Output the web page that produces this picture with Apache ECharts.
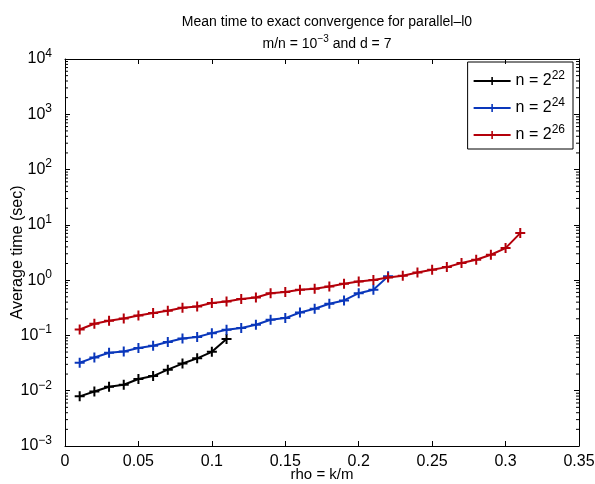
<!DOCTYPE html>
<html>
<head>
<meta charset="utf-8">
<script src="https://cdn.jsdelivr.net/npm/echarts@6/dist/echarts.min.js"></script>
<style>html,body{margin:0;padding:0;background:#fff}#c{width:595px;height:484px}</style>
</head>
<body>
<div id="c"></div>
<script>
// ---- data ----
const rho22 = [0.01,0.02,0.03,0.04,0.05,0.06,0.07,0.08,0.09,0.10,0.11];
const time22 = [0.0079,0.0097,0.0118,0.0128,0.0163,0.0184,0.024,0.031,0.0385,0.0505,0.086];
const rho24 = [0.01,0.02,0.03,0.04,0.05,0.06,0.07,0.08,0.09,0.10,0.11,0.12,0.13,0.14,0.15,0.16,0.17,0.18,0.19,0.20,0.21,0.22];
const time24 = [0.032,0.040,0.0487,0.0514,0.059,0.065,0.076,0.088,0.0935,0.110,0.127,0.136,0.156,0.192,0.206,0.26,0.304,0.375,0.43,0.58,0.67,1.17];
const rho26 = [0.01,0.02,0.03,0.04,0.05,0.06,0.07,0.08,0.09,0.10,0.11,0.12,0.13,0.14,0.15,0.16,0.17,0.18,0.19,0.20,0.21,0.22,0.23,0.24,0.25,0.26,0.27,0.28,0.29,0.30,0.31];
const time26 = [0.128,0.163,0.185,0.203,0.230,0.254,0.280,0.317,0.334,0.385,0.412,0.455,0.487,0.58,0.61,0.67,0.70,0.77,0.86,0.946,1.01,1.12,1.20,1.38,1.54,1.72,2.04,2.34,2.88,3.80,7.1];
const seriesNames = ['n = 2^22','n = 2^24','n = 2^26'];
const xTicks = [0,0.05,0.1,0.15,0.2,0.25,0.3,0.35];
const yDecades = [-3,-2,-1,0,1,2,3,4];
const minorMult = [2,3,4,5,6,7,8,9];

const colors = ['#000000','#0a37bb','#b4000a'];
const FONT = 'Liberation Sans, Arial, Helvetica, sans-serif';
const cross = 'path://M4,0H6V4H10V6H6V10H4V6H0V4H4Z';

const minorVals = [];
yDecades.slice(0,-1).forEach(k => minorMult.forEach(m => minorVals.push(m*Math.pow(10,k))));

function pair(xs, ys){ return xs.map((x,i)=>[x, ys[i]]); }
function supLabel(name){ const p = name.split('^'); return '{b|'+p[0]+'}{s|'+p[1]+'}'; }

const xMin = xTicks[0], xMax = xTicks[xTicks.length-1];
const yMin = Math.pow(10, yDecades[0]), yMax = Math.pow(10, yDecades[yDecades.length-1]);

const chart = echarts.init(document.getElementById('c'), null, {renderer:'canvas'});
const axisCommonY = {
  type:'log', logBase:10, min:yMin, max:yMax,
  axisLine:{show:true, onZero:false, lineStyle:{color:'#000', width:1}},
  axisTick:{show:true, inside:true, length:5, lineStyle:{color:'#000'}},
  splitLine:{show:false}, nameMoveOverlap:false
};
const axisCommonX = {
  type:'value', min:xMin, max:xMax, interval:0.05,
  axisLine:{show:true, onZero:false, lineStyle:{color:'#000', width:1}},
  axisTick:{show:true, inside:true, length:5, lineStyle:{color:'#000'}},
  splitLine:{show:false}, nameMoveOverlap:false
};
const lineSeries = [[rho22,time22],[rho24,time24],[rho26,time26]].map((d,i)=>({
  name: seriesNames[i], type:'line', xAxisIndex:0, yAxisIndex:0,
  data: pair(d[0], d[1]),
  symbol: cross, symbolSize: 10, showSymbol:true,
  lineStyle:{color:colors[i], width:2},
  itemStyle:{color:colors[i]},
  emphasis:{disabled:true}, animation:false, z: 3+i
}));
const minorSeries = {
  type:'custom', xAxisIndex:0, yAxisIndex:0, silent:true, animation:false, clip:false,
  data: minorVals.map(v=>[xMin, v]),
  renderItem: function(params, api){
    const v = api.value(1);
    const l = api.coord([xMin, v]);
    const r = api.coord([xMax, v]);
    return {type:'group', children:[
      {type:'line', shape:{x1:l[0], y1:l[1], x2:l[0]+3, y2:l[1]}, style:{stroke:'#000', lineWidth:1}},
      {type:'line', shape:{x1:r[0]-3, y1:r[1], x2:r[0], y2:r[1]}, style:{stroke:'#000', lineWidth:1}}
    ]};
  }
};
chart.setOption({
  animation:false,
  backgroundColor:'#fff',
  textStyle:{fontFamily:FONT},
  title:{
    text:'Mean time to exact convergence for parallel–l0\n{a|m/n = 10}{s|−3}{a| and d = 7}',
    left:322, top:6, textAlign:'center',
    textStyle:{fontFamily:FONT, fontSize:14, fontWeight:'normal', color:'#000', lineHeight:22,
      rich:{a:{fontFamily:FONT, fontSize:14, color:'#000'}, s:{fontFamily:FONT, fontSize:10, color:'#000', padding:[0,0,10,0]}}}
  },
  legend:{
    data: seriesNames, orient:'vertical', right:22, top:62,
    borderColor:'#000', borderWidth:1, padding:[8,8,6,5], itemGap:8,
    itemWidth:37, itemHeight:10,
    formatter: supLabel,
    textStyle:{fontFamily:FONT, color:'#000', rich:{
      b:{fontFamily:FONT, fontSize:16, color:'#000'},
      s:{fontFamily:FONT, fontSize:12, color:'#000', padding:[0,0,10,0]}}}
  },
  grid:{left:65, right:16, top:59, bottom:38, containLabel:false, outerBoundsMode:'none'},
  xAxis:[
    Object.assign({}, axisCommonX, {position:'bottom',
      axisLabel:{show:true, margin:8, fontFamily:FONT, fontSize:16, color:'#000',
        formatter: v => String(Math.round(v*100)/100)},
      name:'rho = k/m', nameLocation:'middle', nameGap:21,
      nameTextStyle:{fontFamily:FONT, fontSize:15, color:'#000'}}),
    Object.assign({}, axisCommonX, {position:'top', axisLabel:{show:false}})
  ],
  yAxis:[
    Object.assign({}, axisCommonY, {position:'left',
      axisLabel:{show:true, margin:13, fontFamily:FONT, color:'#000',
        formatter: v => '{b|10}{s|' + String(Math.round(Math.log10(v))).replace('-','−') + '}',
        rich:{b:{fontFamily:FONT, fontSize:16, color:'#000'}, s:{fontFamily:FONT, fontSize:12, color:'#000', padding:[0,0,11,0]}}},
      name:'Average time (sec)', nameLocation:'middle', nameGap:39,
      nameTextStyle:{fontFamily:FONT, fontSize:16, color:'#000'}}),
    Object.assign({}, axisCommonY, {position:'right', axisLabel:{show:false}})
  ],
  series: lineSeries.concat([minorSeries])
});
</script>
</body>
</html>
